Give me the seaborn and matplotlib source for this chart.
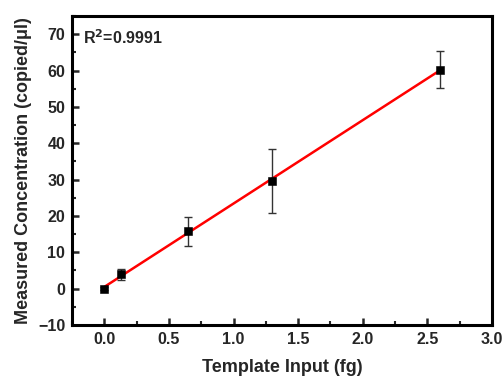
import numpy as np
import pandas as pd
import matplotlib
matplotlib.use("Agg")
import matplotlib.pyplot as plt
import seaborn as sns
from matplotlib.ticker import MultipleLocator

# data
template_fg = [0.0, 0.13, 0.65, 1.3, 2.6]
measured = [0.0, 3.9, 15.8, 29.7, 60.3]
err = [0.3, 1.6, 4.0, 8.8, 5.0]

df = pd.DataFrame({'x': template_fg, 'y': measured, 'err': err})

sns.set_style('white')
plt.rcParams['font.family'] = ['Liberation Sans', 'DejaVu Sans']
plt.rcParams['font.weight'] = 'bold'
plt.rcParams['mathtext.default'] = 'bf'

fig = plt.figure(figsize=(5.04, 3.76), dpi=100)
ax = fig.add_axes([0.143, 0.136, 0.833, 0.821])

# linear fit
slope, intercept = np.polyfit(df['x'], df['y'], 1)
fit_x = np.array([df['x'].min(), df['x'].max()])
ax.plot(fit_x, slope * fit_x + intercept, color='red', lw=1.8, zorder=2)

ax.errorbar(df['x'], df['y'], yerr=df['err'], fmt='none', ecolor='#333333',
            elinewidth=1.0, capsize=3, capthick=1.0, zorder=3)
sns.scatterplot(data=df, x='x', y='y', marker='s', color='black', s=26,
                edgecolor='black', ax=ax, zorder=4)

ax.set_xlim(-0.25, 3.0)
ax.set_ylim(-10, 75)
ax.xaxis.set_major_locator(MultipleLocator(0.5))
ax.xaxis.set_minor_locator(MultipleLocator(0.25))
ax.yaxis.set_major_locator(MultipleLocator(10))
ax.yaxis.set_minor_locator(MultipleLocator(5))
ax.tick_params(which='major', direction='in', length=5, width=1.8, labelsize=11.5)
ax.tick_params(which='minor', direction='in', length=3, width=1.5)
ax.tick_params(axis='both', which='both', top=False, right=False, bottom=True, left=True, pad=5)
for lbl in ax.get_xticklabels() + ax.get_yticklabels():
    lbl.set_fontweight('bold')
for sp in ax.spines.values():
    sp.set_linewidth(2.2)
    sp.set_color('black')

ax.set_xlabel('Template Input (fg)', fontsize=13, fontweight='bold', labelpad=9)
ax.set_ylabel('Measured Concentration (copied/\u03bcl)', fontsize=13, fontweight='bold', labelpad=4)
ax.text(0.025, 0.93, 'R$^{2}$=0.9991', transform=ax.transAxes, fontsize=11.5,
        fontweight='bold', va='center', ha='left')

fig.savefig('out.png', dpi=100)
